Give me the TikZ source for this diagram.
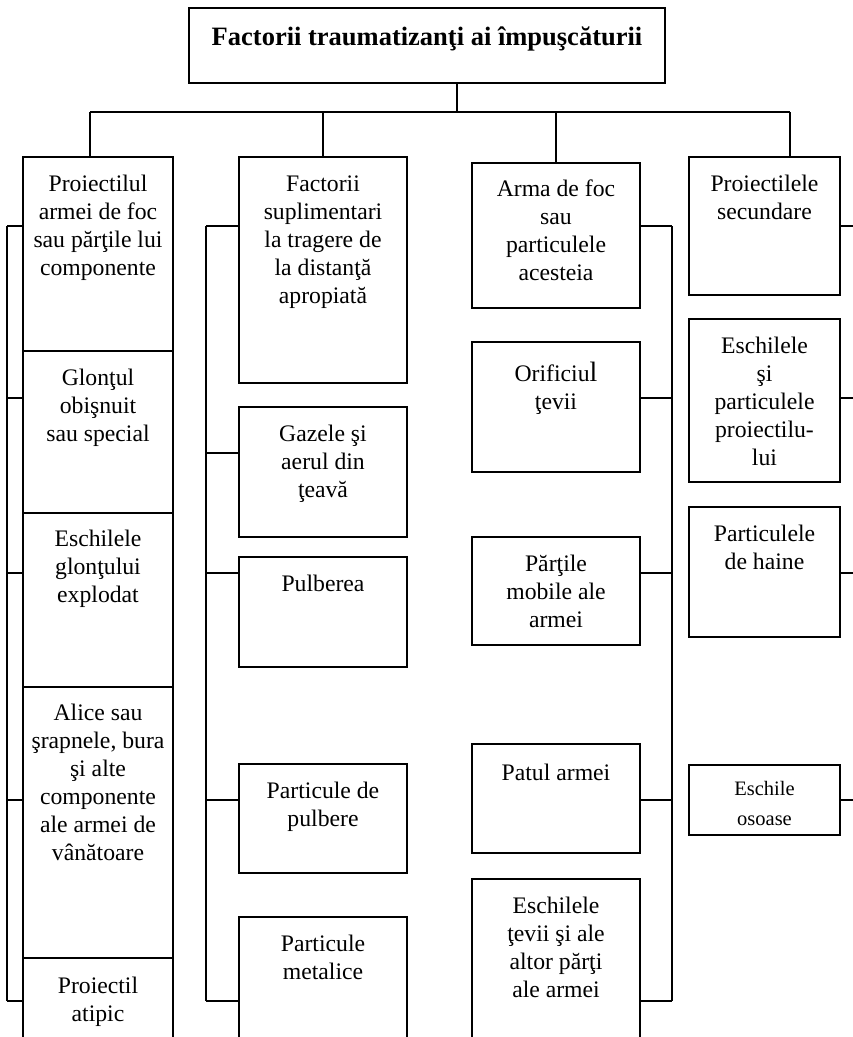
\documentclass[tikz,border=0pt]{standalone}
\usepackage{fontspec}
\setmainfont{Liberation Serif}
\begin{document}
\begin{tikzpicture}[x=1pt,y=-1pt, line width=1.5pt,
  box/.style={draw, line width=1.5pt, anchor=north west, inner sep=0pt, outer sep=0pt},
  txt/.style={anchor=base, text width=#1, align=flush center, inner sep=0pt, font=\fontsize{23.7}{28}\selectfont}]
\useasboundingbox (0,0) rectangle (853,1037);
\clip (0,0) rectangle (853,1037);
\fill[white] (0,0) rectangle (853,1037);
% title
\node[box, minimum width=476pt, minimum height=75pt] (top) at (189,8) {};
\node[txt=470pt, font=\fontsize{26.5}{30}\selectfont\bfseries] (ttop) at ([yshift=-37pt]top.north) {Factorii traumatizanţi ai împuşcăturii};
% column 1
\node[box, minimum width=150pt, minimum height=194pt] (c11) at (23,157) {};
\node[box, minimum width=150pt, minimum height=162pt] (c12) at (23,351) {};
\node[box, minimum width=150pt, minimum height=174pt] (c13) at (23,513) {};
\node[box, minimum width=150pt, minimum height=271pt] (c14) at (23,687) {};
\node[box, minimum width=150pt, minimum height=100pt] (c15) at (23,958) {};
\node[txt=148pt] (t11) at ([yshift=-34pt]c11.north) {Proiectilul\\armei de foc\\sau părţile lui\\componente};
\node[txt=148pt] (t12) at ([yshift=-34pt]c12.north) {Glonţul\\obişnuit\\sau special};
\node[txt=148pt] (t13) at ([yshift=-33pt]c13.north) {Eschilele\\glonţului\\explodat};
\node[txt=148pt] (t14) at ([yshift=-33pt]c14.north) {Alice sau\\şrapnele, bura\\şi alte\\componente\\ale armei de\\vânătoare};
\node[txt=148pt] (t15) at ([yshift=-35pt]c15.north) {Proiectil\\atipic};
% column 2
\node[box, minimum width=168pt, minimum height=226pt] (c21) at (239,157) {};
\node[box, minimum width=168pt, minimum height=130pt] (c22) at (239,407) {};
\node[box, minimum width=168pt, minimum height=110pt] (c23) at (239,557) {};
\node[box, minimum width=168pt, minimum height=109pt] (c24) at (239,764) {};
\node[box, minimum width=168pt, minimum height=140pt] (c25) at (239,917) {};
\node[txt=164pt] (t21) at ([yshift=-34pt]c21.north) {Factorii\\suplimentari\\la tragere de\\la distanţă\\apropiată};
\node[txt=164pt] (t22) at ([yshift=-34pt]c22.north) {Gazele şi\\aerul din\\ţeavă};
\node[txt=164pt] (t23) at ([yshift=-34pt]c23.north) {Pulberea};
\node[txt=164pt] (t24) at ([yshift=-34pt]c24.north) {Particule de\\pulbere};
\node[txt=164pt] (t25) at ([yshift=-34pt]c25.north) {Particule\\metalice};
% column 3
\node[box, minimum width=168pt, minimum height=145pt] (c31) at (472,163) {};
\node[box, minimum width=168pt, minimum height=130pt] (c32) at (472,342) {};
\node[box, minimum width=168pt, minimum height=108pt] (c33) at (472,537) {};
\node[box, minimum width=168pt, minimum height=109pt] (c34) at (472,744) {};
\node[box, minimum width=168pt, minimum height=180pt] (c35) at (472,879) {};
\node[txt=164pt] (t31) at ([yshift=-33pt]c31.north) {Arma de foc\\sau\\particulele\\acesteia};
\node[txt=164pt] (t32) at ([yshift=-39pt]c32.north) {Orificiu{\fontsize{28}{28}\selectfont l}\\ţevii};
\node[txt=164pt] (t33) at ([yshift=-34pt]c33.north) {Părţile\\mobile ale\\armei};
\node[txt=164pt] (t34) at ([yshift=-36pt]c34.north) {Patul armei};
\node[txt=164pt] (t35) at ([yshift=-34pt]c35.north) {Eschilele\\ţevii şi ale\\altor părţi\\ale armei};
% column 4
\node[box, minimum width=151pt, minimum height=138pt] (c41) at (689,157) {};
\node[box, minimum width=151pt, minimum height=163pt] (c42) at (689,319) {};
\node[box, minimum width=151pt, minimum height=130pt] (c43) at (689,507) {};
\node[box, minimum width=151pt, minimum height=70pt] (c44) at (689,765) {};
\node[txt=148pt] (t41) at ([yshift=-34pt]c41.north) {Proiectilele\\secundare};
\node[txt=148pt] (t42) at ([yshift=-34pt]c42.north) {Eschilele\\şi\\particulele\\proiectilu-\\lui};
\node[txt=148pt] (t43) at ([yshift=-34pt]c43.north) {Particulele\\de haine};
\node[txt=148pt, font=\fontsize{20.5}{30}\selectfont] (t44) at ([yshift=-30pt]c44.north) {Eschile\\osoase};
% top connectors
\coordinate (J) at (457,112);
\coordinate (d1) at (90,112);
\coordinate (d2) at (323,112);
\coordinate (d3) at (556,112);
\coordinate (d4) at (790,112);
\draw (J |- top.south) -- (J);
\draw (d1) -- (d4);
\draw (d1) -- (d1 |- c11.north);
\draw (d2) -- (d2 |- c21.north);
\draw (d3) -- (d3 |- c31.north);
\draw (d4) -- (d4 |- c41.north);
% column 1 ladder
\coordinate (a1) at (7,226);
\coordinate (a2) at (7,398);
\coordinate (a3) at (7,573);
\coordinate (a4) at (7,800);
\coordinate (a5) at (7,1001);
\draw (a1) -- (a5);
\draw (a1) -- (a1 -| c11.west);
\draw (a2) -- (a2 -| c12.west);
\draw (a3) -- (a3 -| c13.west);
\draw (a4) -- (a4 -| c14.west);
\draw (a5) -- (a5 -| c15.west);
% column 2 ladder
\coordinate (b1) at (206,226);
\coordinate (b2) at (206,453);
\coordinate (b3) at (206,573);
\coordinate (b4) at (206,800);
\coordinate (b5) at (206,1001);
\draw (b1) -- (b5);
\draw (b1) -- (b1 -| c21.west);
\draw (b2) -- (b2 -| c22.west);
\draw (b3) -- (b3 -| c23.west);
\draw (b4) -- (b4 -| c24.west);
\draw (b5) -- (b5 -| c25.west);
% column 3 ladder
\coordinate (e1) at (672,226);
\coordinate (e2) at (672,398);
\coordinate (e3) at (672,573);
\coordinate (e4) at (672,800);
\coordinate (e5) at (672,1001);
\draw (e1) -- (e5);
\draw (e1) -- (e1 -| c31.east);
\draw (e2) -- (e2 -| c32.east);
\draw (e3) -- (e3 -| c33.east);
\draw (e4) -- (e4 -| c34.east);
\draw (e5) -- (e5 -| c35.east);
% column 4 stubs
\coordinate (f1) at (853,226);
\coordinate (f2) at (853,398);
\coordinate (f3) at (853,573);
\coordinate (f4) at (853,800);
\draw (f1 -| c41.east) -- (f1);
\draw (f2 -| c42.east) -- (f2);
\draw (f3 -| c43.east) -- (f3);
\draw (f4 -| c44.east) -- (f4);
\end{tikzpicture}
\end{document}
